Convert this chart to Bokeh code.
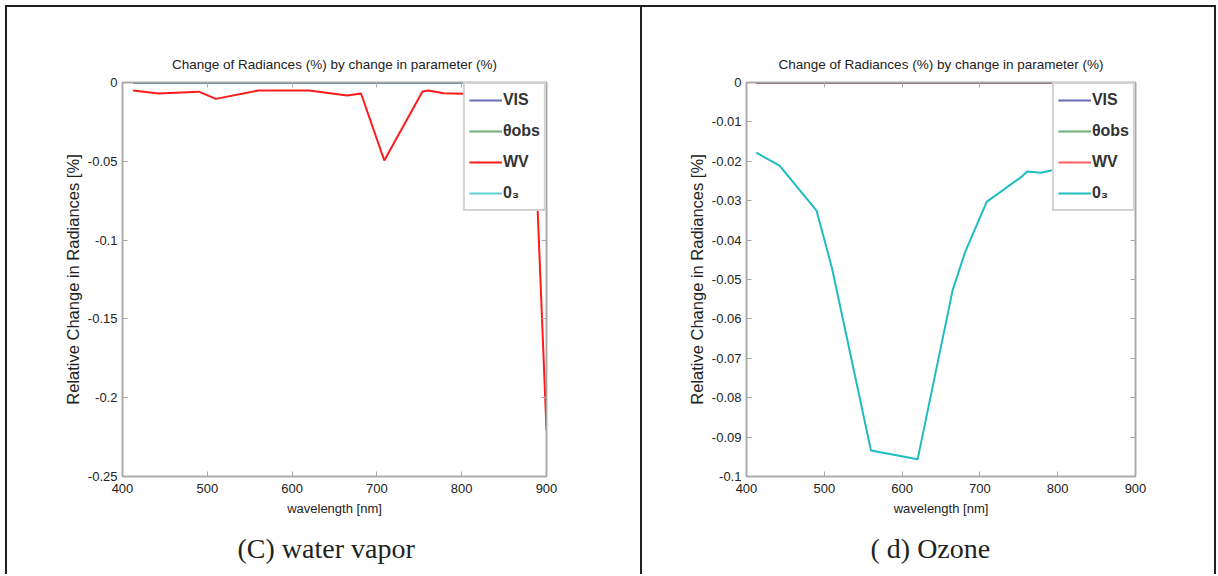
from bokeh.plotting import figure
from bokeh.layouts import row
from bokeh.models import (Range1d, FixedTicker, NumeralTickFormatter, LinearAxis,
                          Legend, LegendItem, Title)
from bokeh.embed import file_html
from bokeh.resources import INLINE

# ---------------- data ----------------
wavelength = [412.5, 442.5, 490, 510, 560, 620, 665, 681.25, 708.75,
              753.75, 760.625, 778.75, 865, 885, 900]

# (C) water vapor panel
wv_vis = [0.0] * 15
wv_theta = [0.0] * 15
wv_wv = [-0.0051, -0.0070, -0.0058, -0.0104, -0.0051, -0.0051, -0.0083, -0.0070,
         -0.0495, -0.0057, -0.0051, -0.0068, -0.0080, -0.0200, -0.2205]
wv_o3 = [0.0] * 15

# (d) Ozone panel
oz_vis = [0.0] * 15
oz_theta = [0.0] * 15
oz_wv = [0.0] * 15
oz_o3 = [-0.0178, -0.0211, -0.0325, -0.0472, -0.0934, -0.0956, -0.0527, -0.0429,
         -0.0303, -0.0239, -0.0226, -0.0229, -0.0190, -0.0185, -0.0180]

x_ticks = [400, 500, 600, 700, 800, 900]
y_ticks_wv = [0, -0.05, -0.1, -0.15, -0.2, -0.25]
y_ticks_oz = [0, -0.01, -0.02, -0.03, -0.04, -0.05, -0.06, -0.07, -0.08, -0.09, -0.1]

series_names = ["VIS", "θobs", "WV", "0₃"]
colors = ["#2b2b9c", "#2e8b3a", "#ff1a1a", "#1fbcc4"]

title_text = "Change of Radiances (%) by change in parameter (%)"
x_label = "wavelength [nm]"
y_label = "Relative Change in Radiances [%]"

AXIS_GREY = "#a8a8a8"
BORDER = "2px solid #231f20"


def make_panel(width, mb_left, mb_right, y_lo, y_ticks, vis, theta, wv, o3,
               caption, cap_offset, styles):
    p = figure(width=width, height=569, output_backend="svg", toolbar_location=None,
               x_range=Range1d(400, 900), y_range=Range1d(y_lo, 0),
               min_border_left=mb_left, min_border_right=mb_right,
               min_border_top=75, min_border_bottom=100)
    p.styles = styles
    p.grid.visible = False
    p.outline_line_color = AXIS_GREY
    p.outline_line_width = 1.5
    p.background_fill_color = "white"
    p.border_fill_color = "white"

    # title
    p.title.text = title_text
    p.title.align = "center"
    p.title.text_font = "Liberation Sans"
    p.title.text_font_size = "13.5px"
    p.title.text_font_style = "normal"
    p.title.text_color = "#222222"
    p.title.standoff = 22

    for ax in (p.xaxis[0], p.yaxis[0]):
        ax.axis_line_color = AXIS_GREY
        ax.axis_line_width = 1.5
        ax.major_tick_line_color = AXIS_GREY
        ax.major_tick_in = 5
        ax.major_tick_out = 0
        ax.minor_tick_line_color = None
        ax.major_label_text_font = "Liberation Sans"
        ax.major_label_text_font_size = "13px"
        ax.major_label_text_color = "#222222"
        ax.axis_label_text_font = "Liberation Sans"
        ax.axis_label_text_font_style = "normal"
        ax.axis_label_text_color = "#222222"
        ax.formatter = NumeralTickFormatter(format="0.[00]")
    p.xaxis[0].ticker = FixedTicker(ticks=x_ticks)
    p.yaxis[0].ticker = FixedTicker(ticks=y_ticks)
    p.xaxis[0].axis_label = x_label
    p.xaxis[0].axis_label_text_font_size = "13px"
    p.xaxis[0].axis_label_standoff = 5
    p.xaxis[0].major_label_standoff = 7
    p.yaxis[0].axis_label = y_label
    p.yaxis[0].axis_label_text_font_size = "16.5px"
    p.yaxis[0].axis_label_standoff = 3

    # box ticks on top and right (MATLAB style)
    for loc, tk in (("above", x_ticks), ("right", y_ticks)):
        ax = LinearAxis(ticker=FixedTicker(ticks=tk), axis_line_color=AXIS_GREY,
                        axis_line_width=1.5, major_tick_line_color=AXIS_GREY,
                        major_tick_in=5, major_tick_out=0, minor_tick_line_color=None,
                        major_label_text_font_size="0px", major_label_text_alpha=0)
        p.add_layout(ax, loc)

    # lines (zero-valued ones first, VIS last so the top edge blends)
    r_theta = p.line(wavelength, theta, line_color=colors[1], line_width=2, line_alpha=0.7)
    r_wv = p.line(wavelength, wv, line_color=colors[2], line_width=2,
                  line_alpha=0.7 if min(wv) == 0 else 1.0)
    r_o3 = p.line(wavelength, o3, line_color=colors[3], line_width=2,
                  line_alpha=0.7 if min(o3) == 0 else 1.0)
    r_vis = p.line(wavelength, vis, line_color=colors[0], line_width=2, line_alpha=0.7)

    legend = Legend(items=[LegendItem(label=series_names[0], renderers=[r_vis]),
                           LegendItem(label=series_names[1], renderers=[r_theta]),
                           LegendItem(label=series_names[2], renderers=[r_wv]),
                           LegendItem(label=series_names[3], renderers=[r_o3])],
                    location="top_right", margin=0, padding=4, spacing=7,
                    glyph_width=33, glyph_height=24, label_height=24,
                    label_standoff=1, label_text_font="Liberation Sans",
                    label_text_font_size="16px", label_text_font_style="bold",
                    label_text_color="#333333",
                    border_line_color="#a8a8a8", border_line_width=2,
                    background_fill_color="white", background_fill_alpha=1.0)
    p.add_layout(legend)

    cap = Title(text=caption, align="left", text_font="Liberation Serif",
                text_font_size="28px", text_font_style="normal", text_color="#222222",
                standoff=24, offset=cap_offset)
    p.add_layout(cap, "below")
    return p


p1 = make_panel(637, 115, 98, -0.25, y_ticks_wv, wv_vis, wv_theta, wv_wv, wv_o3,
                "(C) water vapor", 115,
                {"border-top": BORDER, "border-left": BORDER, "border-right": BORDER})
p2 = make_panel(574, 104, 81, -0.1, y_ticks_oz, oz_vis, oz_theta, oz_wv, oz_o3,
                "( d) Ozone", 124,
                {"border-top": BORDER, "border-right": BORDER})

layout = row(p1, p2, margin=(5, 0, 0, 5))

open("out.html", "w").write(file_html(layout, INLINE))
